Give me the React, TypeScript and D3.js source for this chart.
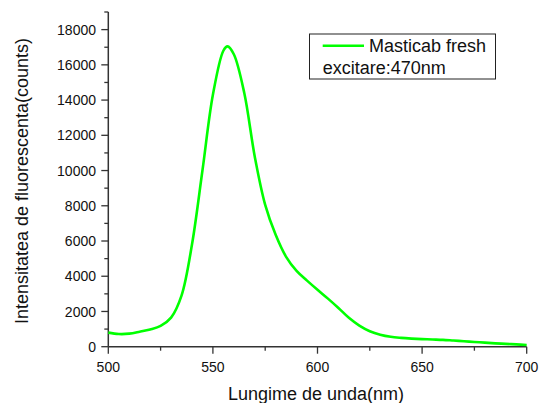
import React, { useEffect, useRef } from "react";
import * as d3 from "d3";

const wavelengths = [500, 505, 510, 515, 520, 525, 530, 535, 540, 545, 550, 555, 557, 560, 565, 570, 575, 580, 585, 590, 595, 600, 605, 610, 615, 620, 625, 630, 635, 640, 645, 650, 655, 660, 665, 670, 675, 680, 685, 690, 695, 700];
const intensities = [800, 720, 740, 850, 980, 1180, 1650, 2900, 5800, 10000, 14300, 16800, 17050, 16600, 14400, 10800, 8050, 6350, 5100, 4300, 3750, 3230, 2730, 2200, 1640, 1200, 880, 680, 560, 500, 460, 430, 410, 390, 350, 310, 270, 230, 190, 160, 130, 100];
const xTicks = [500, 550, 600, 650, 700];
const yTicks = [0, 2000, 4000, 6000, 8000, 10000, 12000, 14000, 16000, 18000];
const legendLabel = "Masticab fresh";
const legendNote = "excitare:470nm";
const xTitle = "Lungime de unda(nm)";
const yTitle = "Intensitatea de fluorescenta(counts)";

export default function App() {
  const ref = useRef<SVGSVGElement>(null);
  useEffect(() => {
    const svg = d3.select(ref.current);
    svg.selectAll("*").remove();
    const font = "'Liberation Sans', Arial, sans-serif";
    const x = d3.scaleLinear().domain([500, 700]).range([108.3, 526.7]);
    const y = d3.scaleLinear().domain([0, 19000]).range([346.7, 12]);
    const axisColor = "#333";

    // x axis
    const gx = svg.append("g");
    gx.append("line").attr("x1", x(500)).attr("x2", x(700)).attr("y1", y(0)).attr("y2", y(0))
      .attr("stroke", axisColor).attr("stroke-width", 1.5);
    d3.range(500, 701, 25).forEach((v) => {
      const major = v % 50 === 0;
      gx.append("line").attr("x1", x(v)).attr("x2", x(v)).attr("y1", y(0)).attr("y2", y(0) + (major ? 7 : 4))
        .attr("stroke", axisColor).attr("stroke-width", 1.3);
    });
    xTicks.forEach((v) => {
      gx.append("text").attr("x", x(v)).attr("y", 372).attr("text-anchor", "middle")
        .attr("font-family", font).attr("font-size", 14).attr("fill", "#111").text(String(v));
    });

    // y axis
    const gy = svg.append("g");
    gy.append("line").attr("x1", x(500)).attr("x2", x(500)).attr("y1", y(0)).attr("y2", y(19000))
      .attr("stroke", axisColor).attr("stroke-width", 1.5);
    d3.range(0, 19001, 1000).forEach((v) => {
      const major = v % 2000 === 0;
      gy.append("line").attr("x1", x(500) - (major ? 7 : 4)).attr("x2", x(500)).attr("y1", y(v)).attr("y2", y(v))
        .attr("stroke", axisColor).attr("stroke-width", 1.3);
    });
    yTicks.forEach((v) => {
      gy.append("text").attr("x", 96).attr("y", y(v)).attr("dy", "0.36em").attr("text-anchor", "end")
        .attr("font-family", font).attr("font-size", 14).attr("fill", "#111").text(String(v));
    });

    // titles
    svg.append("text").attr("x", 316).attr("y", 400).attr("text-anchor", "middle")
      .attr("font-family", font).attr("font-size", 18).attr("fill", "#111").text(xTitle);
    svg.append("text").attr("transform", "translate(28,181) rotate(-90)").attr("text-anchor", "middle")
      .attr("font-family", font).attr("font-size", 18).attr("fill", "#111").text(yTitle);

    // line
    const data = wavelengths.map((w, i) => [w, intensities[i]] as [number, number]);
    const line = d3.line<[number, number]>().x((d) => x(d[0])).y((d) => y(d[1])).curve(d3.curveCatmullRom.alpha(0.5));
    svg.append("path").attr("d", line(data)).attr("fill", "none").attr("stroke", "#00ff00").attr("stroke-width", 2.6)
      .attr("stroke-linejoin", "round");

    // legend
    const lg = svg.append("g");
    lg.append("rect").attr("x", 309.5).attr("y", 34).attr("width", 186).attr("height", 45)
      .attr("fill", "white").attr("stroke", "#222").attr("stroke-width", 1);
    lg.append("line").attr("x1", 322.7).attr("x2", 364).attr("y1", 45.7).attr("y2", 45.7)
      .attr("stroke", "#00ff00").attr("stroke-width", 2.6);
    lg.append("text").attr("x", 369).attr("y", 52).attr("font-family", font).attr("font-size", 18).attr("fill", "#111").text(legendLabel);
    lg.append("text").attr("x", 322.7).attr("y", 74).attr("font-family", font).attr("font-size", 18).attr("fill", "#111").text(legendNote);
  }, []);
  return (
    <svg ref={ref} width={542} height={403} style={{ position: "absolute", left: 0, top: 0, background: "white" }} />
  );
}
